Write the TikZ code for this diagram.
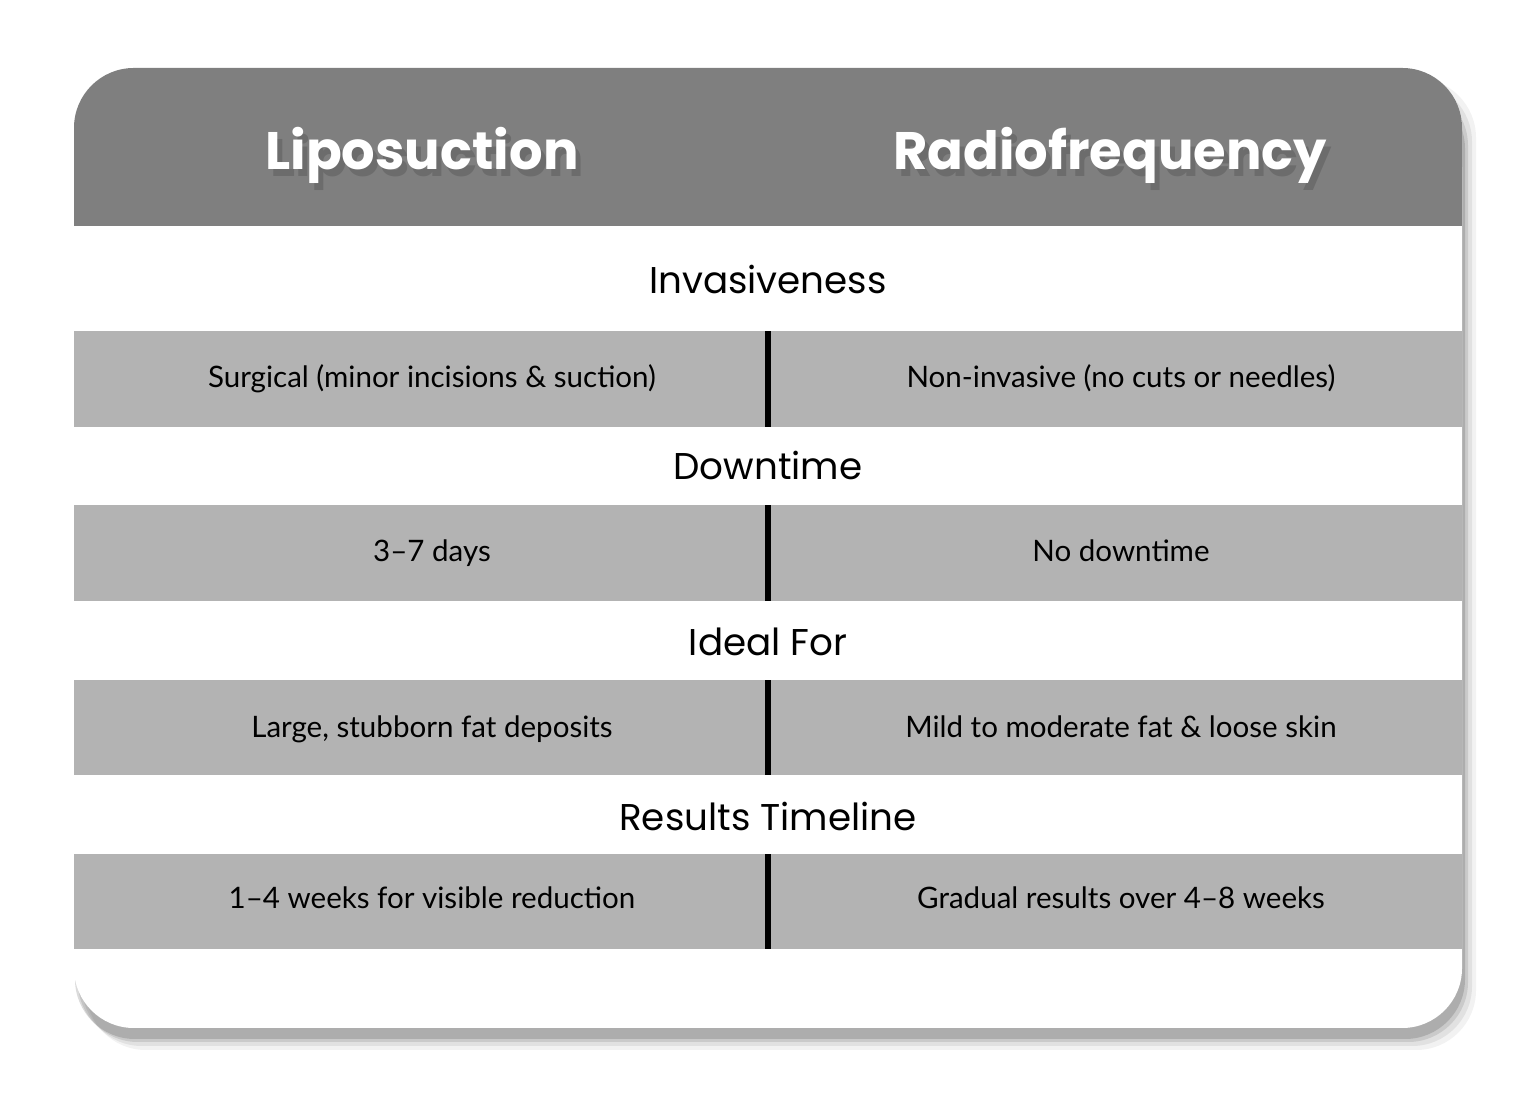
\documentclass[tikz,border=0pt]{standalone}
\usepackage{fontspec}
\setmainfont{Lato}
\newfontfamily\headfont{Poppins}
\usetikzlibrary{positioning}
\definecolor{headgray}{HTML}{7F7F7F}
\definecolor{rowgray}{HTML}{B3B3B3}
\begin{document}
\begin{tikzpicture}[x=0.01cm,y=0.01cm]
	\useasboundingbox (0,0) rectangle (1536,1097);
	\tikzstyle{head}=[font=\headfont\bfseries\fontsize{15}{17}\selectfont, text=white, text height=1.6ex, text depth=.5ex]
	\tikzstyle{topic}=[font=\headfont\fontsize{10.6}{12}\selectfont, text=black, text height=1.6ex, text depth=.4ex]
	\tikzstyle{cell}=[font=\fontsize{8.4}{10}\selectfont, text=black, text height=1.6ex, text depth=.4ex]
	% card with soft shadow
	\foreach \d/\o in {14/0.05, 10/0.07, 6/0.1, 3/0.14}
		\fill[black, opacity=\o, rounded corners=17pt] (74+\d-2,59+2-\d) rectangle (1462+\d,1017+\d-12);
	\fill[white, rounded corners=17pt] (74,69) rectangle (1462,1029);
	\fill[headgray, rounded corners=17pt] (74,871) rectangle (1462,1029);
	\fill[headgray] (74,871) rectangle (1462,947);
	\foreach \t/\b in {766/670, 592/496, 417/322, 243/148}
		\fill[rowgray] (74,\b) rectangle (1462,\t);
	\foreach \t/\b in {766/670, 592/496, 417/322, 243/148}
		\draw[black, line width=1.5pt] (768,\b) -- (768,\t);
	% headers
	\node[head, text=black, opacity=0.15] at (427,930) {Liposuction};
	\node[head, text=black, opacity=0.15] at (1115,930) {Radiofrequency};
	\node[head] (lipo) at (422,937) {Liposuction};
	\node[head] (radio) at (1110,937) {Radiofrequency};
	% topics
	\node[topic] (inv) at (768,814) {Invasiveness};
	\node[topic] (down) at (768,628) {Downtime};
	\node[topic] (ideal) at (768,452) {Ideal For};
	\node[topic] (res) at (768,277) {Results Timeline};
	% cells
	\node[cell] (invL) at (432,720) {Surgical (minor incisions \& suction)};
	\node[cell] (invR) at (1121,720) {Non-invasive (no cuts or needles)};
	\node[cell] (downL) at (432,546) {3–7 days};
	\node[cell] (downR) at (1121,546) {No downtime};
	\node[cell] (idealL) at (432,370) {Large, stubborn fat deposits};
	\node[cell] (idealR) at (1121,370) {Mild to moderate fat \& loose skin};
	\node[cell] (resL) at (432,199) {1–4 weeks for visible reduction};
	\node[cell] (resR) at (1121,199) {Gradual results over 4–8 weeks};
\end{tikzpicture}
\end{document}
